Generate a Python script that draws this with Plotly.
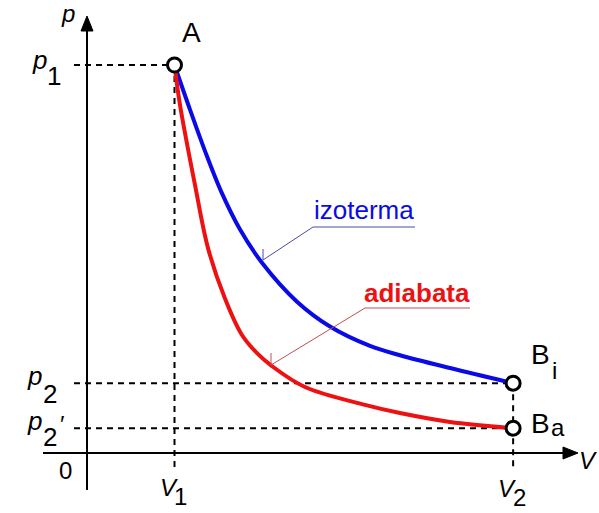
import plotly.graph_objects as go

# --- state values (V in units of V1, p in units of p1) ---
V1, V2 = 1.0, 4.87
p1, p2, p2_adiab = 1.0, 0.18, 0.064

# isothermal expansion A -> Bi
iso_V = [1.000, 1.177, 1.349, 1.543, 1.749, 2.011, 2.400, 2.777, 3.234, 3.577, 4.149, 4.869]
iso_p = [1.000, 0.885, 0.778, 0.669, 0.576, 0.487, 0.390, 0.326, 0.276, 0.252, 0.219, 0.180]

# adiabatic expansion A -> Ba
adi_V = [1.000, 1.063, 1.234, 1.383, 1.577, 1.771, 1.940, 2.114, 2.491, 3.177, 3.577, 4.149, 4.869]
adi_p = [1.000, 0.897, 0.691, 0.528, 0.398, 0.304, 0.258, 0.224, 0.170, 0.124, 0.103, 0.080, 0.064]

W, H = 599, 513
OX, OY = 87, 453      # pixel position of the origin
SX, SY = 87.5, 388    # pixels per unit on each axis


def X(px):
    return (px - OX) / SX


def Y(py):
    return (OY - py) / SY


FONT = "Liberation Sans, Arial, sans-serif"
BLUE = "#0a0ae6"
RED = "#ee1111"

fig = go.Figure()

fig.add_trace(go.Scatter(x=iso_V, y=iso_p, mode="lines", line=dict(color=BLUE, width=4, shape="spline", smoothing=1.0),
                         hoverinfo="skip", showlegend=False))
fig.add_trace(go.Scatter(x=adi_V, y=adi_p, mode="lines", line=dict(color=RED, width=4, shape="spline", smoothing=1.0),
                         hoverinfo="skip", showlegend=False))
fig.add_trace(go.Scatter(x=[V1, V2, V2], y=[p1, p2, p2_adiab], mode="markers",
                         marker=dict(symbol="circle", size=14, color="white", line=dict(color="black", width=3)),
                         cliponaxis=False, hoverinfo="skip", showlegend=False))

shapes = []
dash = dict(color="black", width=2, dash="6px,5px")
# guide lines to the axes
for pv in (p1, p2, p2_adiab):
    shapes.append(dict(type="line", x0=X(74), x1=V1 if pv == p1 else V2, y0=pv, y1=pv, line=dash, layer="below"))
shapes.append(dict(type="line", x0=V1, x1=V1, y0=p1, y1=Y(467), line=dash, layer="below"))
shapes.append(dict(type="line", x0=V2, x1=V2, y0=p2, y1=Y(467), line=dash, layer="below"))

# coordinate axes with arrowheads
axis = dict(color="black", width=2)
shapes.append(dict(type="line", x0=X(43), x1=X(566), y0=0, y1=0, line=axis))
shapes.append(dict(type="line", x0=0, x1=0, y0=Y(490), y1=Y(28), line=axis))
shapes.append(dict(type="path", path=f"M {X(578)},{Y(453)} L {X(563)},{Y(447)} L {X(563)},{Y(459)} Z",
                   fillcolor="black", line=dict(color="black", width=1)))
shapes.append(dict(type="path", path=f"M {X(87)},{Y(16)} L {X(81)},{Y(31)} L {X(93)},{Y(31)} Z",
                   fillcolor="black", line=dict(color="black", width=1)))

# leader lines for the curve names
shapes.append(dict(type="path", path=f"M {X(415)},{Y(227)} L {X(313)},{Y(227)} L {X(263)},{Y(260)} L {X(263)},{Y(249)}",
                   line=dict(color="#4a4aa8", width=1)))
shapes.append(dict(type="path", path=f"M {X(470)},{Y(308)} L {X(365)},{Y(308)} L {X(271)},{Y(365)} L {X(271)},{Y(353)}",
                   line=dict(color="#c05050", width=1)))

ann = []


def label(text, px, py, size, color="black"):
    ann.append(dict(text=text, x=X(px), y=Y(py), xref="x", yref="y", showarrow=False,
                    xanchor="center", yanchor="middle", font=dict(family=FONT, size=size, color=color)))


label("<i>p</i>", 68, 13, 24)
label("<i>V</i>", 588, 460, 24)
label("0", 65, 470, 24)
label("A", 191, 32, 28)

label("<i>p</i>", 39, 60, 26)
label("1", 54, 76, 26)
label("<i>p</i>", 34, 376, 26)
label("2", 50, 394, 26)
label("<i>p</i>", 34, 421, 26)
label("2", 50, 437, 26)
label("′", 62, 424, 24)

label("<i>V</i>", 169, 487, 24)
label("1", 180, 496, 24)
label("<i>V</i>", 507, 488, 24)
label("2", 519, 497, 24)

label("B", 540, 354, 28)
label("i", 554, 370, 24)
label("B", 540, 423, 28)
label("a", 558, 427, 24)

label("izoterma", 364, 210, 26, BLUE)
label("<b>adiabata</b>", 417, 293, 26, RED)

fig.update_layout(
    width=W, height=H,
    margin=dict(l=0, r=0, t=0, b=0),
    paper_bgcolor="white", plot_bgcolor="white",
    xaxis=dict(range=[X(0), X(W)], visible=False, fixedrange=True),
    yaxis=dict(range=[Y(H), Y(0)], visible=False, fixedrange=True),
    shapes=shapes, annotations=ann, showlegend=False,
)

fig.write_html("out.html")
